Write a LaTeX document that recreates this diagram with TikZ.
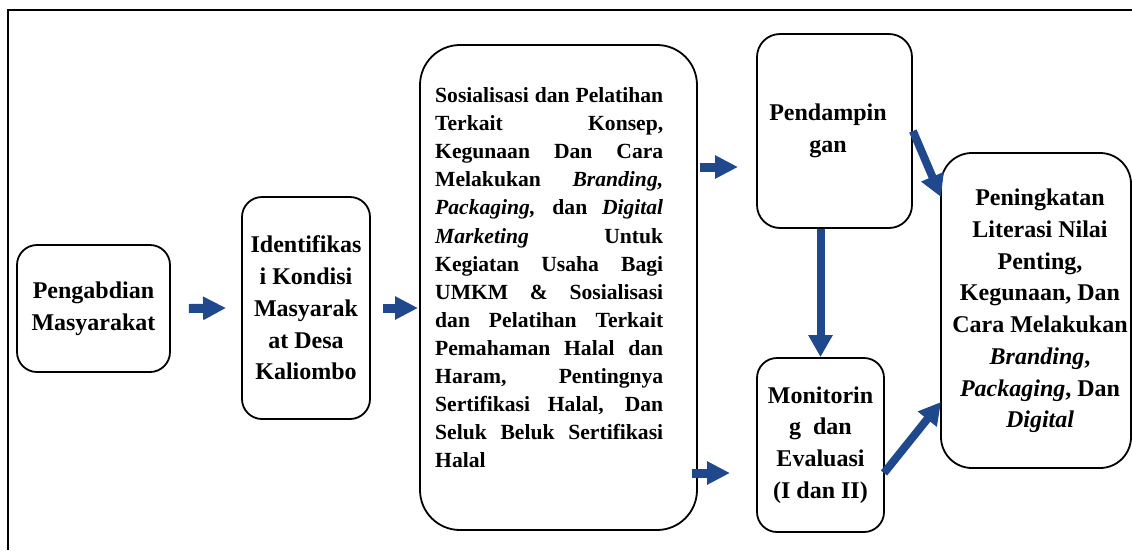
\documentclass[tikz,border=0pt]{standalone}
\usepackage{fontspec}
\setmainfont{Liberation Serif}
\usetikzlibrary{arrows.meta,calc}
\definecolor{arrowblue}{RGB}{31,73,140}
\begin{document}
\begin{tikzpicture}[x=1pt,y=-1pt,
  box/.style={draw=black, line width=1.8pt, fill=white},
  lbl/.style={font=\fontsize{24}{31.7}\selectfont\bfseries, align=center, inner sep=0pt},
  bigtxt/.style={font=\fontsize{21.6}{28.1}\selectfont\bfseries, text width=228pt, align=justify, inner sep=0pt},
  harrow/.style={draw=arrowblue, line width=9pt, -{Triangle[length=23pt,width=22pt]}},
  darrow/.style={draw=arrowblue, line width=8pt, -{Triangle[length=22pt,width=23pt]}}]
\useasboundingbox (0,0) rectangle (1132,550);
% outer frame
\draw[line width=1.5pt] (8,550) -- (8,10) -- (1132,10);

% boxes
\node[box, lbl, rounded corners=20pt, minimum width=153pt, minimum height=127pt] (b1) at (93.5,308.5) {Pengabdian\\Masyarakat};
\node[box, lbl, rounded corners=20pt, minimum width=128pt, minimum height=222pt] (b2) at (306,308) {Identifikas\\i Kondisi\\Masyarak\\at Desa\\Kaliombo};
\node[box, rounded corners=40pt, minimum width=277pt, minimum height=485pt] (b3) at (558.5,287.5) {};
\node[bigtxt, anchor=north west] (t3) at (435,87.4) {\tolerance=10000\relax\hyphenpenalty=10000\relax Sosialisasi dan Pelatihan\linebreak
Terkait Konsep,\linebreak
Kegunaan Dan Cara\linebreak
Melakukan \textit{Branding,}\linebreak
\textit{Packaging,} dan \textit{Digital}\linebreak
\textit{Marketing} Untuk\linebreak
Kegiatan Usaha Bagi\linebreak
UMKM \& Sosialisasi\linebreak
dan Pelatihan Terkait\linebreak
Pemahaman Halal dan\linebreak
Haram, Pentingnya\linebreak
Sertifikasi Halal, Dan\linebreak
Seluk Beluk Sertifikasi\linebreak
Halal};
\node[box, rounded corners=23pt, minimum width=155pt, minimum height=194pt] (b4) at (834.5,131) {};
\node[lbl] (t4) at (828,131) {Pendampin\\gan};
\node[box, lbl, rounded corners=20pt, minimum width=127pt, minimum height=174pt] (b5) at (820.5,445) {Monitorin\\g\ \ dan\\Evaluasi\\(I dan II)};
\node[box, rounded corners=31pt, minimum width=190pt, minimum height=315pt] (b6) at (1036,310.5) {};
\node[lbl] (t6) at (1040,311) {Peningkatan\\Literasi Nilai\\Penting,\\Kegunaan, Dan\\Cara Melakukan\\\textit{Branding},\\\textit{Packaging}, Dan\\\textit{Digital}};

% connector end points
\coordinate (a2e) at (418,308);
\coordinate (a3s) at (700,167);
\coordinate (a3e) at (738,167);
\coordinate (a4s) at (692,473);
\coordinate (a4e) at (730,473);
\coordinate (d1e) at (941,197);
\coordinate (d2s) at (884,473);
\coordinate (d2e) at (941,402);

% arrows
\draw[harrow] ([xshift=18pt]b1.east) -- ([xshift=-15pt]b2.west);
\draw[harrow] ([xshift=12pt]b2.east) -- (a2e);
\draw[harrow] (a3s) -- (a3e);
\draw[harrow] (a4s) -- (a4e);
\draw[darrow] (b4.south -| b5.north) -- (b5.north);
\draw[darrow] (b4.east) -- (d1e);
\draw[darrow] (d2s) -- (d2e);
\end{tikzpicture}
\end{document}
